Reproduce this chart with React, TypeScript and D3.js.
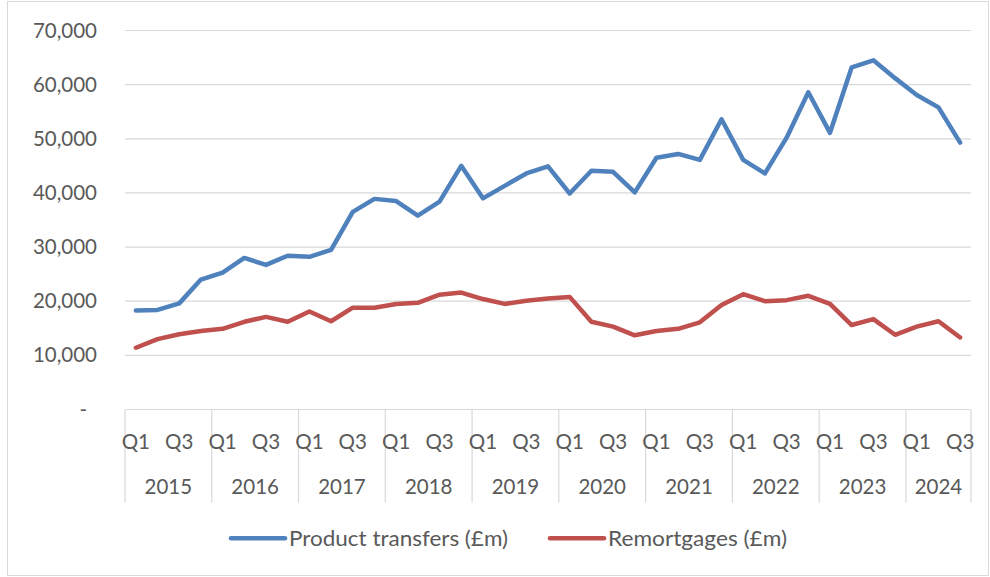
import React from 'react';
import * as d3 from 'd3';

const years = ['2015', '2016', '2017', '2018', '2019', '2020', '2021', '2022', '2023', '2024'];
const quarters = ['Q1', 'Q2', 'Q3', 'Q4'];

const productTransfers = [
  18300, 18400, 19600, 24000, 25300, 28000, 26700, 28400, 28200, 29500,
  36500, 38900, 38500, 35800, 38400, 45000, 39000, 41300, 43600, 44900,
  39900, 44100, 43900, 40100, 46500, 47200, 46100, 53600, 46100, 43600,
  50200, 58600, 51100, 63200, 64500, 61200, 58100, 55800, 49300,
];

const remortgages = [
  11400, 13000, 13900, 14500, 14900, 16200, 17100, 16200, 18100, 16300,
  18800, 18800, 19500, 19700, 21200, 21600, 20400, 19500, 20100, 20500,
  20800, 16200, 15300, 13700, 14500, 14900, 16100, 19300, 21300, 20000,
  20200, 21000, 19500, 15600, 16700, 13800, 15300, 16300, 13300,
];

const yTicks = [0, 10000, 20000, 30000, 40000, 50000, 60000, 70000];

const seriesList = [
  { name: 'Product transfers (£m)', values: productTransfers, color: '#4F81BD' },
  { name: 'Remortgages (£m)', values: remortgages, color: '#C0504D' },
];

const W = 990;
const H = 577;
const font = 'Lato, "Open Sans", sans-serif';
const textColor = '#595959';
const gridColor = '#D9D9D9';

export default function App() {
  const periods = productTransfers.map((_, i) => ({
    year: years[Math.floor(i / 4)],
    q: quarters[i % 4],
  }));

  const x = d3.scaleBand<number>()
    .domain(d3.range(periods.length))
    .range([125, 971])
    .paddingInner(0)
    .paddingOuter(0);
  const bw = x.bandwidth();
  const cx = (i: number) => (x(i) ?? 0) + bw / 2;

  const y = d3.scaleLinear().domain([0, 70000]).range([409.5, 30.5]);

  const line = d3.line<number>()
    .x((_, i) => cx(i))
    .y(d => y(d));

  const fmt = d3.format(',');
  const axisBottom = y(0);
  const boxBottom = 502.7;

  // year groups: first and last index of each year
  const yearGroups = years.map(yr => {
    const idx = periods.map((p, i) => (p.year === yr ? i : -1)).filter(i => i >= 0);
    return { year: yr, start: idx[0], end: idx[idx.length - 1] };
  });

  const legendPos = [
    { lx: 231, len: 219 },
    { lx: 550, len: 179 },
  ];

  return (
    <svg width={W} height={H} style={{ position: 'absolute', left: 0, top: 0, background: '#fff' }}>
      <rect x={7.5} y={1.5} width={981} height={574} fill="#fff" stroke={gridColor} strokeWidth={1} />

      {/* gridlines */}
      {yTicks.map(t => (
        <line key={t} x1={125} x2={971} y1={y(t)} y2={y(t)} stroke={gridColor} strokeWidth={1.2} />
      ))}

      {/* y tick labels */}
      {yTicks.map(t => (
        <text
          key={'l' + t}
          x={t === 0 ? 87 : 97}
          y={y(t) + 7}
          textAnchor="end"
          fontFamily={font}
          fontSize={20.5}
          fill={textColor}
        >
          {t === 0 ? '-' : fmt(t)}
        </text>
      ))}

      {/* category box separators */}
      {yearGroups.map(g => (
        <line key={'s' + g.year} x1={x(g.start)} x2={x(g.start)} y1={axisBottom} y2={boxBottom}
          stroke={gridColor} strokeWidth={1.2} />
      ))}
      <line x1={971} x2={971} y1={axisBottom} y2={boxBottom} stroke={gridColor} strokeWidth={1.2} />

      {/* quarter labels */}
      {periods.map((p, i) => (i % 2 === 0 ? (
        <text key={'q' + i} x={cx(i)} y={448.5} textAnchor="middle" fontFamily={font} fontSize={20.5} fill={textColor}>
          {p.q}
        </text>
      ) : null))}

      {/* year labels */}
      {yearGroups.map(g => (
        <text key={'y' + g.year} x={((x(g.start) ?? 0) + (x(g.end) ?? 0) + bw) / 2} y={494}
          textAnchor="middle" fontFamily={font} fontSize={20.5} fill={textColor}>
          {g.year}
        </text>
      ))}

      {/* series */}
      {seriesList.map(s => (
        <path key={s.name} d={line(s.values) ?? ''} fill="none" stroke={s.color} strokeWidth={4.5}
          strokeLinejoin="round" strokeLinecap="round" />
      ))}

      {/* legend */}
      {seriesList.map((s, k) => {
        const { lx, len } = legendPos[k];
        return (
          <g key={'lg' + k}>
            <line x1={lx} x2={lx + 54} y1={538.3} y2={538.3} stroke={s.color} strokeWidth={4.5} strokeLinecap="round" />
            <text x={lx + 58} y={545.5} fontFamily={font} fontSize={20.5} fill={textColor}
              textLength={len} lengthAdjust="spacingAndGlyphs">{s.name}</text>
          </g>
        );
      })}
    </svg>
  );
}
